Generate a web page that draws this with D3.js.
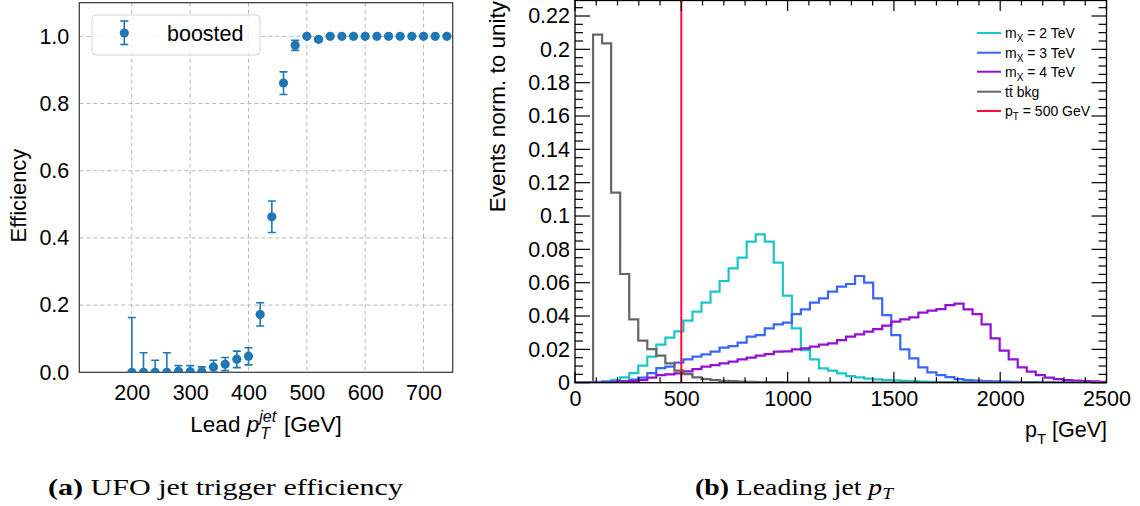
<!DOCTYPE html>
<html>
<head>
<meta charset="utf-8">
<script src="https://cdn.jsdelivr.net/npm/d3@7"></script>
<style>
  body { margin: 0; background: #fff; }
  svg text { font-family: "Liberation Sans", Arial, Helvetica, sans-serif; fill: #000; }
  .caption { font-family: "Liberation Serif", "DejaVu Serif", serif; }
</style>
</head>
<body>
<svg id="chart" width="1140" height="506"></svg>
<script>
// ---- left panel: trigger efficiency ----
const effPt = [200, 220, 240, 260, 280, 300, 320, 340, 360, 380, 400, 420, 440, 460, 480,
  500, 520, 540, 560, 580, 600, 620, 640, 660, 680, 700, 720, 740];
const effVal = [0, 0, 0, 0, 0.003, 0.002, 0.002, 0.016, 0.024, 0.039, 0.048, 0.172, 0.463, 0.861, 0.973,
  1.0, 0.991, 1.0, 1.0, 1.0, 1.0, 1.0, 1.0, 1.0, 1.0, 1.0, 1.0, 1.0];
const effErrLo = [0, 0, 0, 0, 0.003, 0.002, 0.002, 0.016, 0.019, 0.025, 0.026, 0.034, 0.047, 0.034, 0.015,
  0.002, 0.006, 0, 0, 0, 0, 0, 0, 0, 0, 0, 0, 0];
const effErrHi = [0.163, 0.058, 0.036, 0.058, 0.017, 0.018, 0.014, 0.02, 0.02, 0.024, 0.025, 0.035, 0.047, 0.033, 0.015,
  0, 0.005, 0, 0, 0, 0, 0, 0, 0, 0, 0, 0, 0];
const effXTicks = [200, 300, 400, 500, 600, 700];
const effYTicks = [0, 0.2, 0.4, 0.6, 0.8, 1.0];

// ---- right panel: leading jet pT, normalised histograms ----
const binWidth = 42.5;
const ttbarBkg = [0, 0, 0.2088, 0.2036, 0.114, 0.0652, 0.038, 0.0252, 0.0202, 0.0162, 0.0116, 0.0072, 0.0052,
  0.0032, 0.0022, 0.0015, 0.0011, 0.0009, 0.0007, 0.0005, 0.0004, 0.0003, 0.0003, 0.0002, 0.0002, 0.0002,
  0.0001, 0.0001, 0.0001, 0.0001, 0.0001, 0, 0, 0, 0, 0, 0, 0, 0, 0, 0, 0, 0, 0, 0, 0, 0, 0, 0, 0, 0, 0,
  0, 0, 0, 0, 0, 0, 0];
const mx2TeV = [0, 0, 0.0003, 0.001, 0.0016, 0.0032, 0.0058, 0.0102, 0.0156, 0.0228, 0.027, 0.0308, 0.0372,
  0.0426, 0.048, 0.0546, 0.061, 0.0686, 0.075, 0.0846, 0.089, 0.0846, 0.072, 0.0522, 0.0326, 0.0196, 0.014,
  0.0086, 0.0072, 0.0056, 0.004, 0.0032, 0.0024, 0.002, 0.0016, 0.0014, 0.0011, 0.0009, 0.0007, 0.0005,
  0.0004, 0.0003, 0.0002, 0.0002, 0.0001, 0.0001, 0, 0, 0, 0, 0, 0, 0, 0, 0, 0, 0, 0, 0];
const mx3TeV = [0, 0, 0.0001, 0.0003, 0.0006, 0.001, 0.0018, 0.003, 0.0058, 0.0088, 0.0096, 0.012, 0.014,
  0.0156, 0.017, 0.0186, 0.021, 0.022, 0.024, 0.0276, 0.0286, 0.0326, 0.035, 0.036, 0.0412, 0.044, 0.048,
  0.0506, 0.0546, 0.0576, 0.0592, 0.064, 0.06, 0.0506, 0.0406, 0.0286, 0.02, 0.0146, 0.0092, 0.0062, 0.0046,
  0.0034, 0.0022, 0.0016, 0.0012, 0.001, 0.0008, 0.0006, 0.0005, 0.0004, 0.0003, 0.0002, 0.0002, 0.0001,
  0.0001, 0, 0, 0, 0];
const mx4TeV = [0, 0, 0, 0.0001, 0.0003, 0.0006, 0.001, 0.0016, 0.003, 0.0045, 0.005, 0.0056, 0.0068, 0.0082,
  0.0096, 0.0106, 0.0116, 0.0126, 0.014, 0.015, 0.0162, 0.0172, 0.0186, 0.0188, 0.02, 0.0206, 0.0216, 0.0228,
  0.0236, 0.0256, 0.0276, 0.029, 0.0306, 0.0322, 0.0342, 0.0366, 0.038, 0.0392, 0.042, 0.0432, 0.0442, 0.0466,
  0.0474, 0.044, 0.0412, 0.035, 0.0266, 0.0192, 0.014, 0.0092, 0.0066, 0.0046, 0.003, 0.0022, 0.0016, 0.0012,
  0.001, 0.0008, 0.0005];
const ptCut = 500;
const histXTicks = [0, 500, 1000, 1500, 2000, 2500];
const histYTicks = [0, 0.02, 0.04, 0.06, 0.08, 0.1, 0.12, 0.14, 0.16, 0.18, 0.2, 0.22];

const series = [
  { name: 'm', sub: 'X', rest: ' = 2 TeV', values: mx2TeV, color: '#1cc6c8' },
  { name: 'm', sub: 'X', rest: ' = 3 TeV', values: mx3TeV, color: '#3a66ff' },
  { name: 'm', sub: 'X', rest: ' = 4 TeV', values: mx4TeV, color: '#9410d2' },
  { name: 'tt\u0304 bkg', sub: null, rest: '', values: ttbarBkg, color: '#666666' }
];

const svg = d3.select('#chart');

// ================= left panel =================
const L = { left: 79.3, right: 452.7, top: 2.7, bottom: 372.3 };
const xE = d3.scaleLinear().domain([110, 750]).range([L.left, L.right]);
const yE = d3.scaleLinear().domain([0, 1.1]).range([L.bottom, L.top]);

const gl = svg.append('g');
gl.append('clipPath').attr('id', 'clipL').append('rect')
  .attr('x', L.left).attr('y', L.top).attr('width', L.right - L.left).attr('height', L.bottom - L.top);

// grid
gl.selectAll('.vgrid').data(effXTicks).join('line')
  .attr('x1', d => xE(d)).attr('x2', d => xE(d)).attr('y1', L.top).attr('y2', L.bottom)
  .attr('stroke', '#b8b8b8').attr('stroke-width', 1).attr('stroke-dasharray', '4,3');
gl.selectAll('.hgrid').data(effYTicks.filter(d => d > 0)).join('line')
  .attr('x1', L.left).attr('x2', L.right).attr('y1', d => yE(d)).attr('y2', d => yE(d))
  .attr('stroke', '#b8b8b8').attr('stroke-width', 1).attr('stroke-dasharray', '4,3');

// axes
const axL = gl.append('g').attr('transform', `translate(0,${L.bottom})`)
  .call(d3.axisBottom(xE).tickValues(effXTicks).tickSize(0).tickPadding(12).tickFormat(d3.format('d')));
const ayL = gl.append('g').attr('transform', `translate(${L.left},0)`)
  .call(d3.axisLeft(yE).tickValues(effYTicks).tickSize(0).tickPadding(10).tickFormat(d3.format('.1f')));
[axL, ayL].forEach(a => {
  a.select('.domain').remove();
  a.selectAll('text').attr('font-size', 21.5).attr('font-family', '"Liberation Sans", Arial, sans-serif');
});

gl.append('rect').attr('x', L.left).attr('y', L.top).attr('width', L.right - L.left).attr('height', L.bottom - L.top)
  .attr('fill', 'none').attr('stroke', '#333').attr('stroke-width', 1.2);

// error bars and markers
const pts = gl.append('g').attr('clip-path', 'url(#clipL)');
const effData = effPt.map((x, i) => ({ x, v: effVal[i], lo: effErrLo[i], hi: effErrHi[i] }));
const eb = pts.selectAll('.eb').data(effData.filter(d => d.lo + d.hi > 0)).join('g');
eb.append('line')
  .attr('x1', d => xE(d.x)).attr('x2', d => xE(d.x))
  .attr('y1', d => yE(d.v - d.lo)).attr('y2', d => yE(d.v + d.hi))
  .attr('stroke', '#1f77b4').attr('stroke-width', 1.6);
eb.append('line')
  .attr('x1', d => xE(d.x) - 4).attr('x2', d => xE(d.x) + 4)
  .attr('y1', d => yE(d.v + d.hi)).attr('y2', d => yE(d.v + d.hi))
  .attr('stroke', '#1f77b4').attr('stroke-width', 1.6);
eb.append('line')
  .attr('x1', d => xE(d.x) - 4).attr('x2', d => xE(d.x) + 4)
  .attr('y1', d => yE(d.v - d.lo)).attr('y2', d => yE(d.v - d.lo))
  .attr('stroke', '#1f77b4').attr('stroke-width', 1.6);
pts.selectAll('.pt').data(effData).join('circle')
  .attr('cx', d => xE(d.x)).attr('cy', d => yE(d.v)).attr('r', 4.6).attr('fill', '#1f77b4');

// legend
const lg = gl.append('g');
lg.append('rect').attr('x', 92).attr('y', 15).attr('width', 168).attr('height', 40).attr('rx', 4)
  .attr('fill', '#fff').attr('fill-opacity', 0.8).attr('stroke', '#d4d4d4');
lg.append('line').attr('x1', 124.3).attr('x2', 124.3).attr('y1', 21).attr('y2', 44.5)
  .attr('stroke', '#1f77b4').attr('stroke-width', 1.6);
[21, 44.5].forEach(y => lg.append('line').attr('x1', 120.3).attr('x2', 128.3).attr('y1', y).attr('y2', y)
  .attr('stroke', '#1f77b4').attr('stroke-width', 1.6));
lg.append('circle').attr('cx', 124.3).attr('cy', 33).attr('r', 4.6).attr('fill', '#1f77b4');
lg.append('text').attr('x', 167).attr('y', 40.5).attr('font-size', 21.5).text('boosted');

// axis titles
gl.append('text').attr('transform', `translate(26,${(L.top + L.bottom) / 2 + 8}) rotate(-90)`)
  .attr('text-anchor', 'middle').attr('font-size', 22).text('Efficiency');
const xlab = gl.append('text').attr('x', 266).attr('y', 432).attr('text-anchor', 'middle').attr('font-size', 22.5);
xlab.append('tspan').text('Lead ');
xlab.append('tspan').attr('font-style', 'italic').text('p');
const jet = xlab.append('tspan').attr('font-style', 'italic').attr('font-size', 16).attr('dy', -10).text('jet');
const jetLen = jet.node().getComputedTextLength();
xlab.append('tspan').attr('font-style', 'italic').attr('font-size', 16).attr('dy', 17).attr('dx', -jetLen + 1).text('T');
xlab.append('tspan').attr('dy', -7).attr('dx', jetLen - 9).text(' [GeV]');

// ================= right panel =================
const R = { left: 575, right: 1106.5, top: 0, bottom: 382.7 };
const xH = d3.scaleLinear().domain([0, 2500]).range([R.left, R.right]);
const yH = d3.scaleLinear().domain([0, 0.2296]).range([R.bottom, R.top]);

const gr = svg.append('g');
gr.append('clipPath').attr('id', 'clipR').append('rect')
  .attr('x', R.left).attr('y', R.top).attr('width', R.right - R.left).attr('height', R.bottom - R.top);

function stepPath(values) {
  const p = d3.path();
  p.moveTo(xH(0), yH(0));
  values.forEach((v, i) => {
    p.lineTo(xH(i * binWidth), yH(v));
    p.lineTo(xH((i + 1) * binWidth), yH(v));
  });
  p.lineTo(xH(values.length * binWidth), yH(0));
  return p.toString();
}

const hg = gr.append('g').attr('clip-path', 'url(#clipR)');
hg.selectAll('.hist').data(series).join('path')
  .attr('d', d => stepPath(d.values))
  .attr('fill', 'none').attr('stroke', d => d.color).attr('stroke-width', 2.2)
  .attr('stroke-linejoin', 'miter');
hg.append('line').attr('x1', xH(ptCut)).attr('x2', xH(ptCut)).attr('y1', R.top).attr('y2', R.bottom)
  .attr('stroke', '#ff0a3c').attr('stroke-width', 2);

// frame + ticks (ROOT style, inward on all sides)
gr.append('rect').attr('x', R.left).attr('y', R.top + 0.5).attr('width', R.right - R.left).attr('height', R.bottom - R.top - 0.5)
  .attr('fill', 'none').attr('stroke', '#000').attr('stroke-width', 1.3);
const xMinor = d3.range(0, 2501, 100);
const yMinor = d3.range(0, 0.2296, 0.005);
const tk = gr.append('g').attr('stroke', '#000').attr('stroke-width', 1.2);
xMinor.forEach(v => {
  const major = histXTicks.includes(v);
  const len = major ? 11 : 5.5;
  tk.append('line').attr('x1', xH(v)).attr('x2', xH(v)).attr('y1', R.bottom).attr('y2', R.bottom - len);
  tk.append('line').attr('x1', xH(v)).attr('x2', xH(v)).attr('y1', R.top).attr('y2', R.top + len);
});
yMinor.forEach((v, i) => {
  const major = i % 4 === 0;
  const len = major ? 15 : 8;
  tk.append('line').attr('x1', R.left).attr('x2', R.left + len).attr('y1', yH(v)).attr('y2', yH(v));
  tk.append('line').attr('x1', R.right).attr('x2', R.right - len).attr('y1', yH(v)).attr('y2', yH(v));
});

const axR = gr.append('g').attr('transform', `translate(0,${R.bottom})`)
  .call(d3.axisBottom(xH).tickValues(histXTicks).tickSize(0).tickPadding(8).tickFormat(d3.format('d')));
const ayR = gr.append('g').attr('transform', `translate(${R.left},0)`)
  .call(d3.axisLeft(yH).tickValues(histYTicks).tickSize(0).tickPadding(5).tickFormat(d => String(+d.toFixed(2))));
[axR, ayR].forEach(a => {
  a.select('.domain').remove();
  a.selectAll('text').attr('font-size', 21.5).attr('font-family', '"Liberation Sans", Arial, sans-serif');
});

// legend
const legendItems = series.concat([{ name: 'p', sub: 'T', rest: ' = 500 GeV', color: '#ff0a3c' }]);
const legY = [33, 52.7, 71.7, 91.7, 111];
legendItems.forEach((d, i) => {
  gr.append('line').attr('x1', 977).attr('x2', 1001).attr('y1', legY[i]).attr('y2', legY[i])
    .attr('stroke', d.color).attr('stroke-width', 2);
  const t = gr.append('text').attr('x', 1005).attr('y', legY[i] + 5).attr('font-size', 14);
  t.append('tspan').text(d.name);
  if (d.sub) {
    t.append('tspan').attr('font-size', 10).attr('dy', 4).text(d.sub);
    t.append('tspan').attr('dy', -4).text(d.rest);
  }
});

// axis titles
gr.append('text').attr('transform', `translate(505,1) rotate(-90)`)
  .attr('text-anchor', 'end').attr('font-size', 22.5).text('Events norm. to unity');
const xt = gr.append('text').attr('x', 1107).attr('y', 437).attr('text-anchor', 'end').attr('font-size', 21.5);
xt.append('tspan').text('p');
xt.append('tspan').attr('font-size', 15).attr('dy', 7).text('T');
xt.append('tspan').attr('dy', -7).text(' [GeV]');

// ================= captions =================
const capA = svg.append('text').attr('class', 'caption').attr('x', 48).attr('y', 495).attr('font-size', 23)
  .attr('textLength', 355).attr('lengthAdjust', 'spacingAndGlyphs');
capA.append('tspan').attr('font-weight', 'bold').text('(a)');
capA.append('tspan').text(' UFO jet trigger efficiency');
const capB = svg.append('text').attr('class', 'caption').attr('x', 695).attr('y', 495).attr('font-size', 23)
  .attr('textLength', 198).attr('lengthAdjust', 'spacingAndGlyphs');
capB.append('tspan').attr('font-weight', 'bold').text('(b)');
capB.append('tspan').text(' Leading jet ');
capB.append('tspan').attr('font-style', 'italic').text('p');
capB.append('tspan').attr('font-style', 'italic').attr('font-size', 16).attr('dy', 4).text('T');
</script>
</body>
</html>
